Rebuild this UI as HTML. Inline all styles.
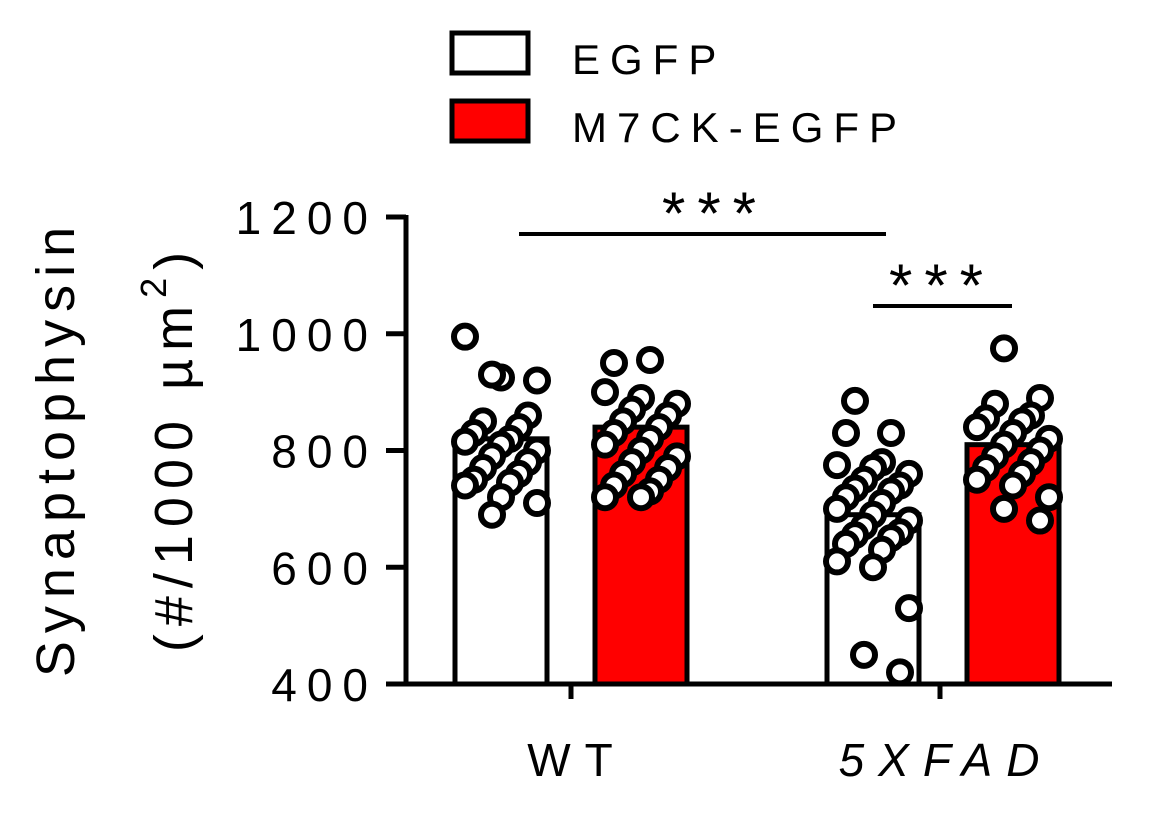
<!DOCTYPE html>
<html><head><meta charset="utf-8"><style>
body{margin:0;background:#fff;}
svg text{font-family:"Liberation Sans",Arial,sans-serif;fill:#000;}
</style></head><body>
<svg id="chart" width="1150" height="830" xmlns="http://www.w3.org/2000/svg">
<g id="legend">
 <rect x="452" y="33" width="76" height="40" fill="#fff" stroke="#000" stroke-width="5"/>
 <text x="572" y="74" font-size="42" letter-spacing="10">EGFP</text>
 <rect x="452" y="101" width="76" height="40" fill="#f00" stroke="#000" stroke-width="5"/>
 <text x="572" y="142" font-size="42" letter-spacing="10">M7CK-EGFP</text>
</g>
<g>
 <text transform="translate(74,448) rotate(-90)" text-anchor="middle" font-size="54" letter-spacing="8">Synaptophysin</text>
 <text transform="translate(192,448) rotate(-90)" text-anchor="middle" font-size="54" letter-spacing="8">(#/1000 µm<tspan dy="-26" font-size="36">2</tspan><tspan dy="26">)</tspan></text>
</g>
<g id="plot"></g>
</svg>
<script>
const groups=["WT","5XFAD"];
const series=["EGFP","M7CK-EGFP"];
const means=[[820,840],[690,810]];
const wtEgfp=[995,925,920,930,860,850,840,830,820,815,810,800,790,780,770,760,750,745,740,720,710,690];
const wtM7ck=[950,955,900,890,880,870,860,850,840,830,820,810,800,790,780,770,760,750,740,730,720,720];
const fadEgfp=[885,830,830,780,775,770,760,750,740,735,730,720,710,700,690,680,670,660,655,650,640,630,610,600,530,450,420];
const fadM7ck=[975,890,880,860,855,850,840,830,820,810,800,790,780,770,760,750,740,720,700,680];
const yTicks=[400,600,800,1000,1200];
const NS="http://www.w3.org/2000/svg";
const plot=document.getElementById('plot');
const y=v=>684-(v-400)*467/800;
const barX=[[501,641],[873,1013]];
const groupX=[571,940];
function mk(tag,attrs,parent){const e=document.createElementNS(NS,tag);for(const k in attrs)e.setAttribute(k,attrs[k]);(parent||plot).appendChild(e);return e;}
let ax=mk('line',{x1:406,y1:215,x2:406,y2:686,stroke:'#000','stroke-width':5});


let xa=mk('line',{x1:404,y1:684,x2:1112,y2:684,stroke:'#000','stroke-width':5});


yTicks.forEach(t=>{
 const l=mk('line',{x1:386,y1:y(t),x2:406,y2:y(t),stroke:'#000','stroke-width':5});
 
 
 const tx=mk('text',{x:378,y:y(t)+17,'text-anchor':'end','font-size':46,'letter-spacing':10});
 tx.textContent=t;
 
 
});
groups.forEach((g,i)=>{
 const l=mk('line',{x1:groupX[i],y1:684,x2:groupX[i],y2:699,stroke:'#000','stroke-width':5});
 
 
 const tx=mk('text',{x:groupX[i]+6,y:776,'text-anchor':'middle','font-size':46,'letter-spacing':14});
 if(i==1)tx.setAttribute('font-style','italic');
 tx.textContent=g;
 
 
});
const pts=[[wtEgfp,wtM7ck],[fadEgfp,fadM7ck]];
groups.forEach((g,gi)=>series.forEach((s,si)=>{
 const cx=barX[gi][si];
 const b=mk('rect',{x:cx-46,y:y(means[gi][si]),width:92,height:684-y(means[gi][si]),fill:si?'#f00':'#fff',stroke:'#000','stroke-width':5});
 
 
 pts[gi][si].forEach((v,k)=>{
  const off=(((k*4+gi*2+si)%9)-4)*9;
  const c=mk('circle',{cx:cx+off,cy:y(v),r:11,fill:'#fff',stroke:'#000','stroke-width':6});
  
  
 });
}));
[[519,886,234,715,208],[873,1012,306,942,280]].forEach((a,i)=>{
 const l=mk('line',{x1:a[0],y1:a[2],x2:a[1],y2:a[2],stroke:'#000','stroke-width':4});
 
 
 const t=mk('text',{x:a[3],y:a[4]+26,'text-anchor':'middle','font-size':60,'letter-spacing':12});
 t.textContent='***';
 
 
});
</script>
</body></html>
